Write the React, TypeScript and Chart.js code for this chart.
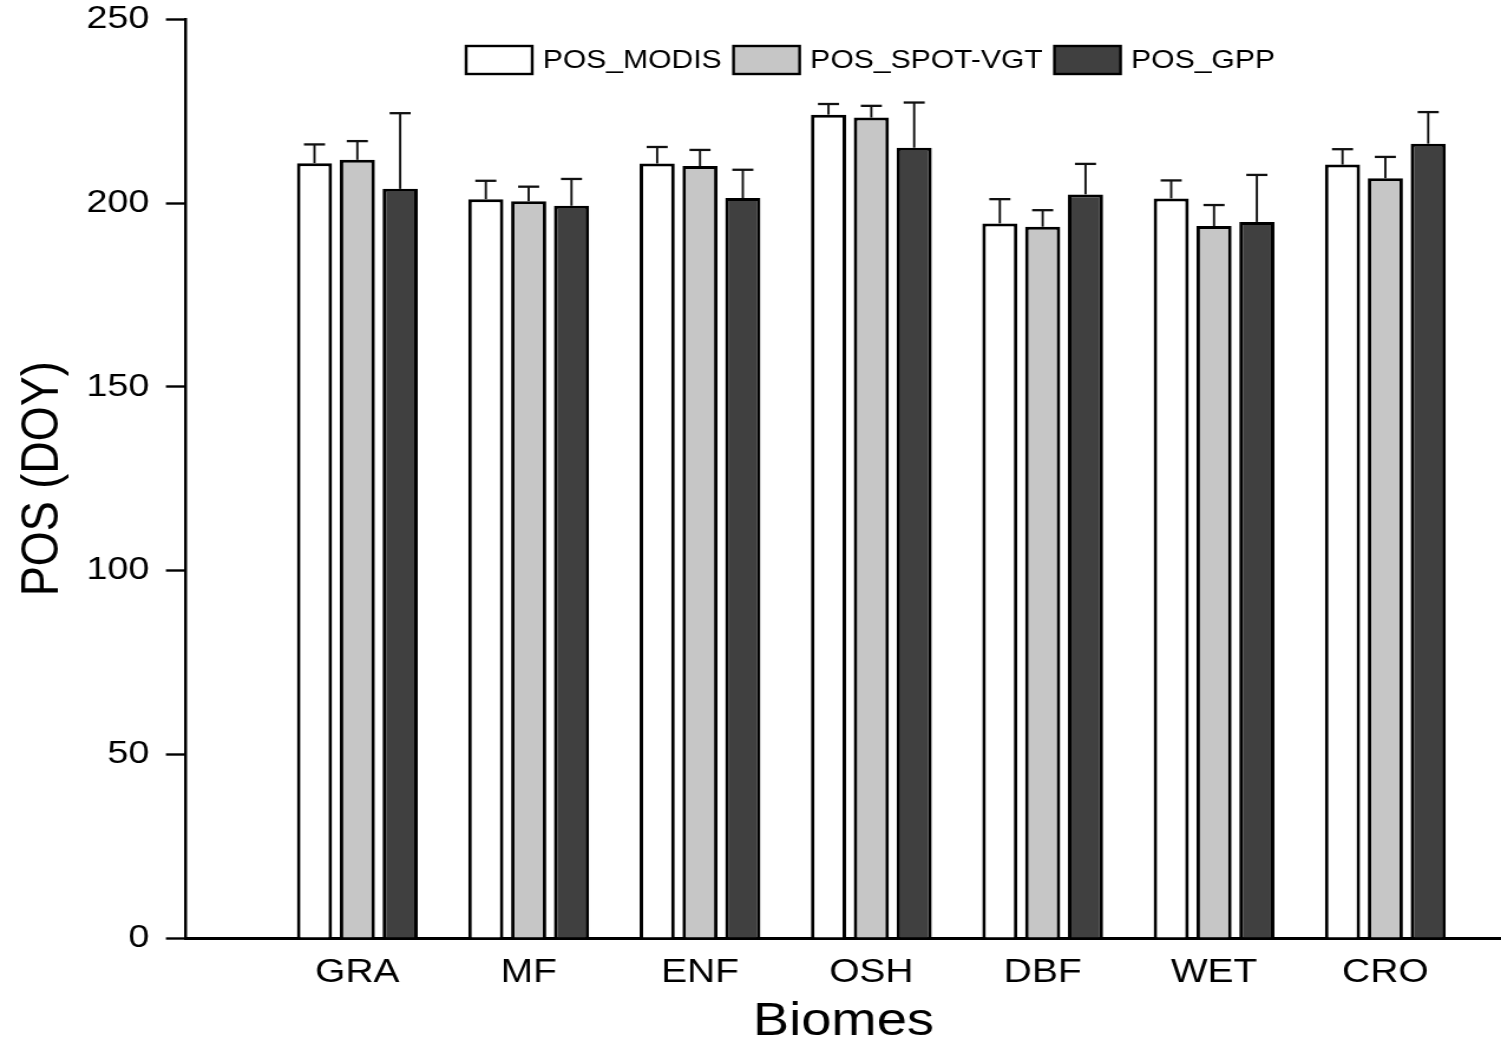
import React, { useEffect, useRef } from 'react';
import { Chart, registerables } from 'chart.js';

Chart.register(...registerables);

// ---- data ----
const categories = ['GRA', 'MF', 'ENF', 'OSH', 'DBF', 'WET', 'CRO'];
const seriesNames = ['POS_MODIS', 'POS_SPOT-VGT', 'POS_GPP'];
const posModis = [210.9, 201.1, 210.8, 224.1, 194.5, 201.3, 210.5];
const posSpot = [211.8, 200.5, 210.1, 223.3, 193.6, 193.8, 206.8];
const posGpp = [203.9, 199.3, 201.4, 215.1, 202.4, 194.9, 216.2];
const errModis = [5.1, 5.0, 4.5, 2.9, 6.6, 4.9, 4.2];
const errSpot = [5.1, 4.0, 4.4, 3.2, 4.5, 5.7, 5.8];
const errGpp = [20.6, 7.3, 7.7, 12.3, 8.3, 12.8, 8.6];
const yTickValues = [0, 50, 100, 150, 200, 250];

// ---- styling ----
const STRETCH = 1.18;
const OUT_W = 1501;
const OUT_H = 1044;
const W = Math.round(OUT_W / STRETCH);
const FONT = '"Liberation Sans", Arial, Helvetica, sans-serif';
const fills = ['#ffffff', '#c6c6c6', '#404040'];

const errorBarPlugin = {
  id: 'errorBars',
  afterDatasetsDraw(chart: any) {
    const ctx = chart.ctx;
    const yScale = chart.scales.y;
    chart.data.datasets.forEach((ds: any, di: number) => {
      const meta = chart.getDatasetMeta(di);
      meta.data.forEach((bar: any, i: number) => {
        const v = ds.data[i].y;
        const top = yScale.getPixelForValue(v + ds.errors[i]);
        const capHalf = bar.width * 0.3;
        ctx.save();
        ctx.strokeStyle = '#111';
        ctx.lineWidth = 1.9;
        ctx.beginPath();
        ctx.moveTo(bar.x, bar.y);
        ctx.lineTo(bar.x, top);
        ctx.stroke();
        ctx.lineWidth = 2.3;
        ctx.beginPath();
        ctx.moveTo(bar.x - capHalf, top);
        ctx.lineTo(bar.x + capHalf, top);
        ctx.stroke();
        ctx.restore();
      });
    });
  },
};

const boxLegendPlugin = {
  id: 'boxLegend',
  afterDraw(chart: any) {
    const ctx = chart.ctx;
    ctx.save();
    ctx.font = `25.5px ${FONT}`;
    ctx.textBaseline = 'middle';
    ctx.textAlign = 'left';
    let x = 395;
    const yc = 60;
    const bw = 56;
    const bh = 28;
    chart.data.datasets.forEach((ds: any) => {
      ctx.fillStyle = ds.backgroundColor;
      ctx.fillRect(x, yc - bh / 2, bw, bh);
      ctx.strokeStyle = '#000';
      ctx.lineWidth = 2.4;
      ctx.strokeRect(x, yc - bh / 2, bw, bh);
      x += bw + 9;
      ctx.fillStyle = '#000';
      ctx.fillText(ds.label, x, yc + 1);
      x += ctx.measureText(ds.label).width + 10;
    });
    ctx.restore();
  },
};

export default function App() {
  const ref = useRef<HTMLCanvasElement | null>(null);

  useEffect(() => {
    document.body.style.margin = '0';
    document.body.style.overflow = 'hidden';
    const canvas = ref.current!;
    const values = [posModis, posSpot, posGpp];
    const errors = [errModis, errSpot, errGpp];
    const chart = new Chart(canvas, {
      type: 'bar',
      data: {
        datasets: seriesNames.map((name, k) => ({
          label: name,
          data: values[k].map((v, i) => ({ x: i + 1, y: v })),
          errors: errors[k],
          backgroundColor: fills[k],
          borderColor: '#000',
          borderWidth: 3,
          borderSkipped: 'start',
          categoryPercentage: 0.75,
          barPercentage: 0.82,
        })) as any,
      },
      options: {
        responsive: false,
        animation: false,
        devicePixelRatio: 1,
        events: [],
        layout: { padding: { top: 19.5, right: 0, bottom: 0, left: 0 } },
        plugins: { legend: { display: false }, tooltip: { enabled: false }, title: { display: false } },
        scales: {
          x: {
            type: 'linear',
            min: 0,
            max: 7.675,
            offset: false,
            afterBuildTicks: (scale: any) => {
              scale.ticks = categories.map((_, i) => ({ value: i + 1 }));
            },
            afterFit: (scale: any) => {
              scale.height = 106;
            },
            grid: { display: false, drawTicks: false, offset: false },
            border: { display: true, color: '#000', width: 3 },
            ticks: {
              autoSkip: false,
              maxRotation: 0,
              padding: 15,
              color: '#000',
              font: { family: FONT, size: 33 },
              callback: (v: any) => categories[Number(v) - 1] ?? '',
            },
            title: {
              display: true,
              text: 'Biomes',
              color: '#000',
              font: { family: FONT, size: 46, lineHeight: 1 },
              padding: { top: 0, bottom: -1 },
            },
          },
          y: {
            min: 0,
            max: 250,
            afterBuildTicks: (scale: any) => {
              scale.ticks = yTickValues.map((v) => ({ value: v }));
            },
            afterFit: (scale: any) => {
              scale.width = 157.6;
            },
            grid: {
              display: true,
              drawOnChartArea: false,
              drawTicks: true,
              tickLength: 17,
              tickWidth: 2.4,
              tickColor: '#000',
            },
            border: { display: true, color: '#000', width: 2.5 },
            ticks: {
              padding: 14,
              color: '#000',
              font: { family: FONT, size: 32, lineHeight: 0.3 },
            },
            title: {
              display: true,
              text: 'POS (DOY)',
              color: '#000',
              font: { family: FONT, size: 45, lineHeight: 1 },
              padding: { top: 14, bottom: 0 },
            },
          },
        },
      } as any,
      plugins: [errorBarPlugin, boxLegendPlugin],
    });
    return () => chart.destroy();
  }, []);

  return (
    <canvas
      ref={ref}
      width={W}
      height={OUT_H}
      style={{ display: 'block', width: `${OUT_W}px`, height: `${OUT_H}px` }}
    />
  );
}
